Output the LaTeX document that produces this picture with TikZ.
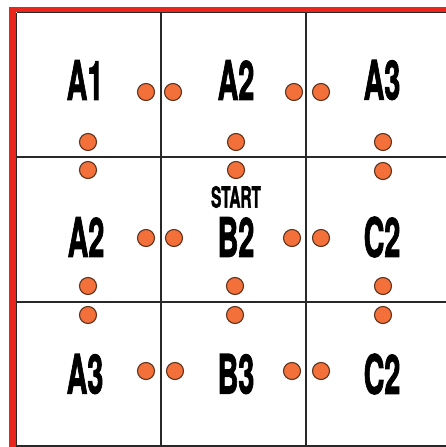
\documentclass[tikz,border=0pt]{standalone}
\usepackage{fontspec}
\setmainfont{TeX Gyre Heros}[BoldFeatures={FakeBold=2.2}]
\definecolor{frame}{RGB}{232,38,28}
\definecolor{dotfill}{RGB}{243,112,58}
\definecolor{dotline}{RGB}{95,52,30}
\definecolor{gridc}{RGB}{40,40,40}
\newcommand\condtxt[1]{\scalebox{0.53}[1]{#1}}
\tikzset{
  lbl/.style={inner sep=0pt, font=\fontsize{54}{54}\selectfont\bfseries, text=black},
  small/.style={inner sep=0pt, font=\fontsize{29}{29}\selectfont\bfseries, text=black},
  dot/.style={circle, minimum size=17pt, inner sep=0pt, fill=dotfill, draw=dotline, line width=1.1pt},
  gridline/.style={draw=gridc, line width=1.1pt},
}
\begin{document}
\begin{tikzpicture}[x=1pt,y=-1pt]
\useasboundingbox (0,0) rectangle (446,447);
\fill[white] (0,0) rectangle (446,447);
\begin{scope}
\clip (0,0) rectangle (446,447);
% grid
\draw[gridline] (16.5,12.5) -- (460,12.5);
\draw[gridline] (16.5,157) -- (460,157);
\draw[gridline] (16.5,302) -- (460,302);
\draw[gridline] (16.5,446) -- (460,446);
\draw[gridline] (16.5,12.5) -- (16.5,460);
\draw[gridline] (161,12.5) -- (161,460);
\draw[gridline] (306,12.5) -- (306,460);
% red frame
\fill[frame] (9,7) rectangle (446,12);
\fill[frame] (9,7) rectangle (15.5,447);
\end{scope}
% labels
\node[lbl] (a1) at (85,80) {\condtxt{A1}};
\node[lbl] (a2t) at (236,80) {\condtxt{A2}};
\node[lbl] (a3t) at (382,80) {\condtxt{A3}};
\node[lbl] (a2m) at (86,237) {\condtxt{A2}};
\node[small] (start) at (236,197) {\condtxt{START}};
\node[lbl] (b2) at (236,237) {\condtxt{B2}};
\node[lbl] (c2m) at (382,237) {\condtxt{C2}};
\node[lbl] (a3b) at (85,374) {\condtxt{A3}};
\node[lbl] (b3) at (236,374) {\condtxt{B3}};
\node[lbl] (c2b) at (382,374) {\condtxt{C2}};
% dots row 1
\node[dot] (d1) at (146,92) {};
\node[dot] (d2) at (173,92) {};
\node[dot] (d3) at (294,92) {};
\node[dot] (d4) at (321,92) {};
\node[dot] (d5) at (88,142) {};
\node[dot] (d6) at (236,142) {};
\node[dot] (d7) at (383,142) {};
% dots row 2
\node[dot] (d8) at (88,170) {};
\node[dot] (d9) at (236,170) {};
\node[dot] (d10) at (383,171) {};
\node[dot] (d11) at (146,238) {};
\node[dot] (d12) at (174,238) {};
\node[dot] (d13) at (292,238) {};
\node[dot] (d14) at (321,238) {};
\node[dot] (d15) at (88,286) {};
\node[dot] (d16) at (235,286) {};
\node[dot] (d17) at (383,286) {};
% dots row 3
\node[dot] (d18) at (88,315) {};
\node[dot] (d19) at (235,315) {};
\node[dot] (d20) at (383,315) {};
\node[dot] (d21) at (146,371) {};
\node[dot] (d22) at (175,371) {};
\node[dot] (d23) at (292,371) {};
\node[dot] (d24) at (321,371) {};
\end{tikzpicture}
\end{document}
